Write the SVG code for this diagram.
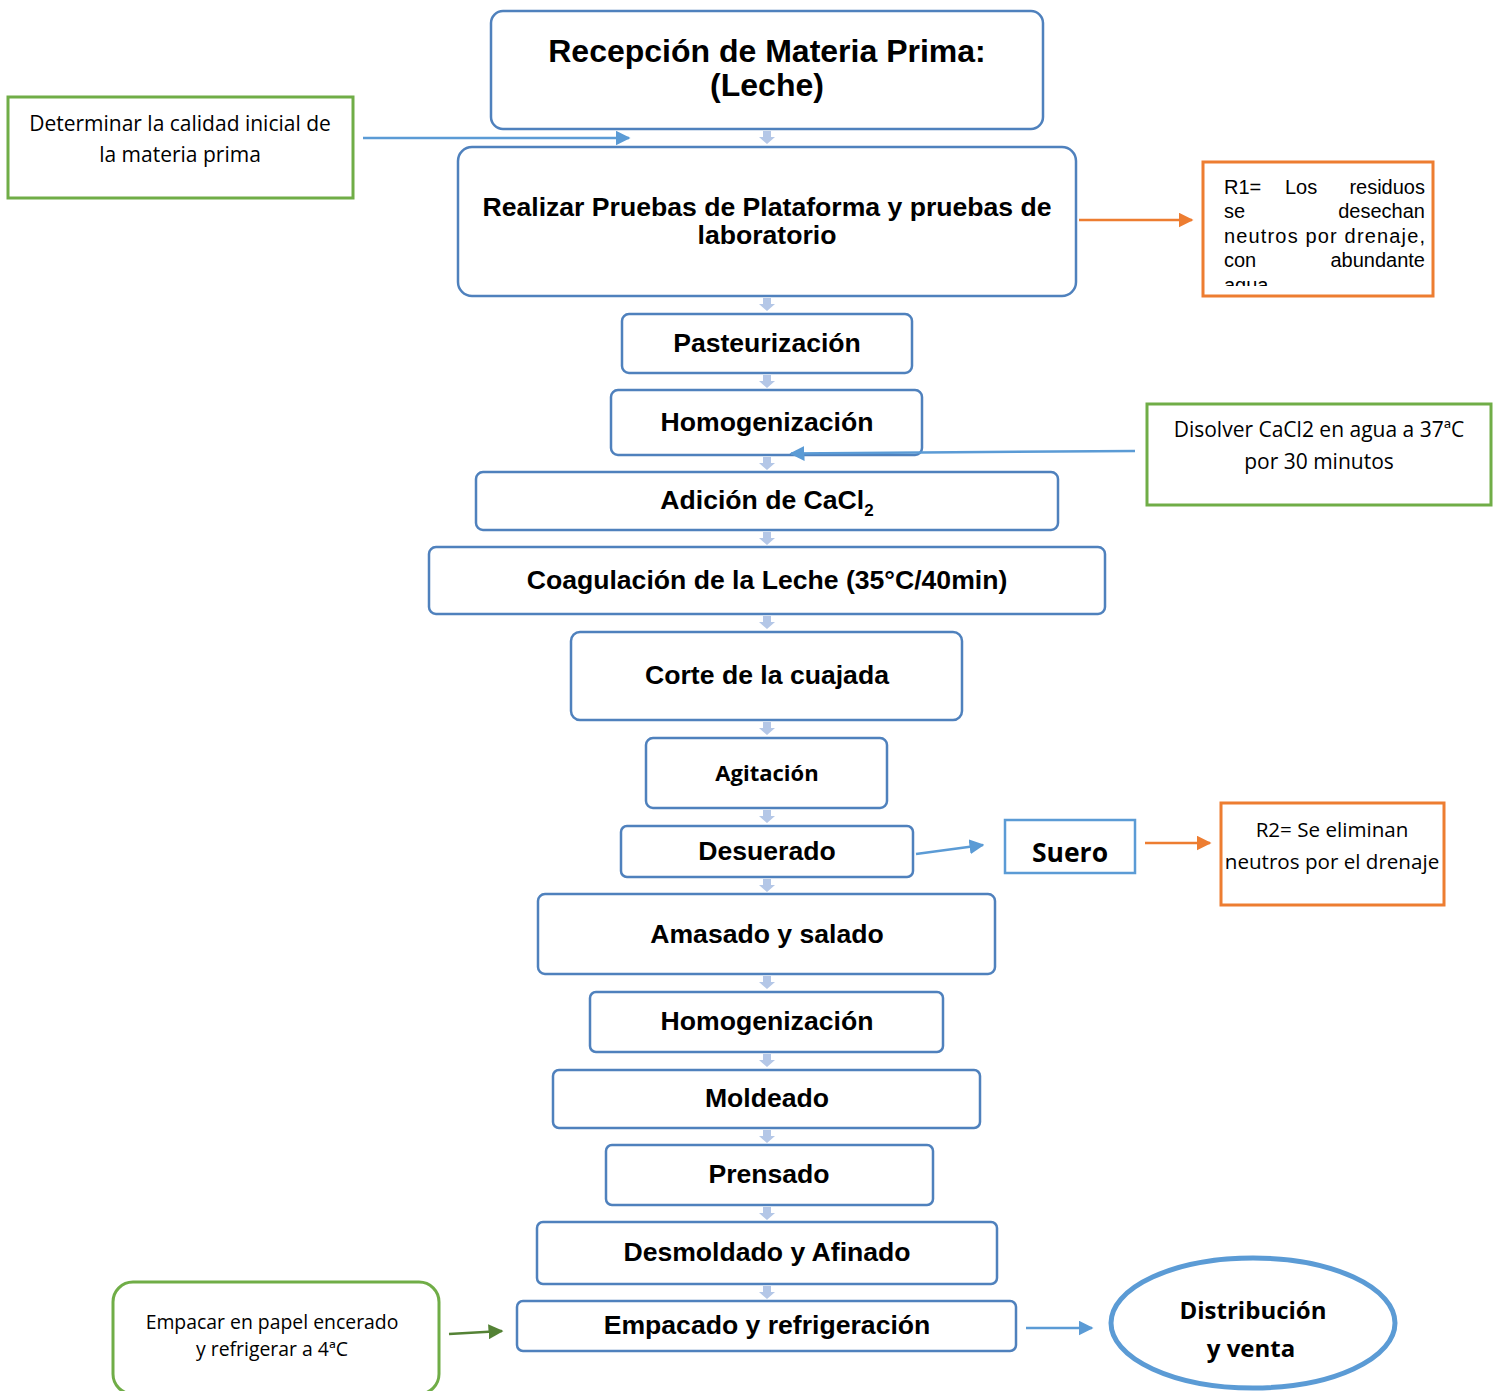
<svg xmlns="http://www.w3.org/2000/svg" width="1500" height="1391" viewBox="0 0 1500 1391">
  <style>
    .step { fill: #ffffff; stroke: #4f81bd; stroke-width: 2.5; }
    .note { fill: #ffffff; stroke: #70ad47; stroke-width: 3; }
    .waste { fill: #ffffff; stroke: #ed7d31; stroke-width: 3; }
    .t { font-family: "Liberation Sans", Arial, sans-serif; font-weight: bold; fill: #000; text-anchor: middle; font-size: 26.6px; }
    .title { font-size: 32px; }
    .sub { font-size: 17px; }
    .c { font-family: "Open Sans", "Noto Sans", sans-serif; fill: #000; text-anchor: middle; }
    .cb { font-family: "Open Sans", "Noto Sans", sans-serif; font-weight: bold; fill: #000; text-anchor: middle; }
    .r1 { font-family: "Liberation Sans", Arial, sans-serif; font-size: 20px; fill: #000; }
    .flow { fill: #b4c7e7; }
    .blue { stroke: #5b9bd5; stroke-width: 2.5; fill: none; }
    .orange { stroke: #ed7d31; stroke-width: 2.5; fill: none; }
    .green { stroke: #548235; stroke-width: 2.5; fill: none; }
  </style>
  <defs>
    <marker id="ahBlue" viewBox="0 0 10 10" refX="9" refY="5" markerWidth="6" markerHeight="6" markerUnits="strokeWidth" orient="auto">
      <path d="M0,0 L10,5 L0,10 z" fill="#5b9bd5"/>
    </marker>
    <marker id="ahOrange" viewBox="0 0 10 10" refX="9" refY="5" markerWidth="6" markerHeight="6" markerUnits="strokeWidth" orient="auto">
      <path d="M0,0 L10,5 L0,10 z" fill="#ed7d31"/>
    </marker>
    <marker id="ahGreen" viewBox="0 0 10 10" refX="9" refY="5" markerWidth="6" markerHeight="6" markerUnits="strokeWidth" orient="auto">
      <path d="M0,0 L10,5 L0,10 z" fill="#548235"/>
    </marker>
    <path id="down" d="M-4,0 h8 v6 h4 l-8,7 l-8,-7 h4 z"/>
    <clipPath id="r1clip"><rect x="1205" y="164" width="226" height="122"/></clipPath>
  </defs>

  <!-- main process steps -->
  <g id="recepcion">
    <rect class="step" x="491" y="11" width="552" height="118" rx="12"/>
    <text class="t title" x="767" y="62">Recepción de Materia Prima:</text>
    <text class="t title" x="767" y="96">(Leche)</text>
  </g>
  <g id="pruebas">
    <rect class="step" x="458" y="147" width="618" height="149" rx="14"/>
    <text class="t" x="767" y="216">Realizar Pruebas de Plataforma y pruebas de</text>
    <text class="t" x="767" y="244">laboratorio</text>
  </g>
  <g id="pasteurizacion">
    <rect class="step" x="622" y="314" width="290" height="59" rx="7"/>
    <text class="t" x="767" y="352">Pasteurización</text>
  </g>
  <g id="homogenizacion1">
    <rect class="step" x="611" y="390" width="311" height="65" rx="7"/>
    <text class="t" x="767" y="431">Homogenización</text>
  </g>
  <g id="adicion">
    <rect class="step" x="476" y="472" width="582" height="58" rx="7"/>
    <text class="t" x="767" y="509">Adición de CaCl<tspan class="sub" dy="7">2</tspan></text>
  </g>
  <g id="coagulacion">
    <rect class="step" x="429" y="547" width="676" height="67" rx="7"/>
    <text class="t" x="767" y="589">Coagulación de la Leche (35°C/40min)</text>
  </g>
  <g id="corte">
    <rect class="step" x="571" y="632" width="391" height="88" rx="9"/>
    <text class="t" x="767" y="684">Corte de la cuajada</text>
  </g>
  <g id="agitacion">
    <rect class="step" x="646" y="738" width="241" height="70" rx="7"/>
    <text class="cb" x="767" y="781" font-size="22">Agitación</text>
  </g>
  <g id="desuerado">
    <rect class="step" x="621" y="826" width="292" height="51" rx="6"/>
    <text class="t" x="767" y="860">Desuerado</text>
  </g>
  <g id="amasado">
    <rect class="step" x="538" y="894" width="457" height="80" rx="7"/>
    <text class="t" x="767" y="943">Amasado y salado</text>
  </g>
  <g id="homogenizacion2">
    <rect class="step" x="590" y="992" width="353" height="60" rx="6"/>
    <text class="t" x="767" y="1030">Homogenización</text>
  </g>
  <g id="moldeado">
    <rect class="step" x="553" y="1070" width="427" height="58" rx="6"/>
    <text class="t" x="767" y="1107">Moldeado</text>
  </g>
  <g id="prensado">
    <rect class="step" x="606" y="1145" width="327" height="60" rx="6"/>
    <text class="t" x="769" y="1183">Prensado</text>
  </g>
  <g id="desmoldado">
    <rect class="step" x="537" y="1222" width="460" height="62" rx="6"/>
    <text class="t" x="767" y="1261">Desmoldado y Afinado</text>
  </g>
  <g id="empacado">
    <rect class="step" x="517" y="1301" width="499" height="50" rx="6"/>
    <text class="t" x="767" y="1334">Empacado y refrigeración</text>
  </g>
  <g id="distribucion">
    <ellipse cx="1253" cy="1323" rx="142" ry="65" fill="#ffffff" stroke="#5b9bd5" stroke-width="5"/>
    <text class="cb" x="1253" y="1319" font-size="24">Distribución</text>
    <text class="cb" x="1251" y="1357" font-size="24">y venta</text>
  </g>

  <!-- side notes -->
  <g id="nota-calidad">
    <rect class="note" x="8" y="97" width="345" height="101"/>
    <text class="c" x="180" y="131" font-size="21">Determinar la calidad inicial de</text>
    <text class="c" x="180" y="162" font-size="21">la materia prima</text>
  </g>
  <g id="residuo-r1">
    <rect class="waste" x="1203" y="162" width="230" height="134"/>
    <g clip-path="url(#r1clip)">
      <text class="r1" x="1224" y="194">R1=</text>
      <text class="r1" x="1285" y="194">Los</text>
      <text class="r1" x="1425" y="194" text-anchor="end">residuos</text>
      <text class="r1" x="1224" y="218">se</text>
      <text class="r1" x="1425" y="218" text-anchor="end">desechan</text>
      <text class="r1" x="1224" y="243" textLength="201" lengthAdjust="spacing">neutros por drenaje,</text>
      <text class="r1" x="1224" y="267">con</text>
      <text class="r1" x="1425" y="267" text-anchor="end">abundante</text>
      <text class="r1" x="1224" y="292">agua</text>
    </g>
  </g>
  <g id="nota-cacl2">
    <rect class="note" x="1147" y="404" width="344" height="101"/>
    <text class="c" x="1319" y="437" font-size="21">Disolver CaCl2 en agua a 37ªC</text>
    <text class="c" x="1319" y="469" font-size="21">por 30 minutos</text>
  </g>
  <g id="suero">
    <rect x="1005" y="820" width="130" height="53" fill="#ffffff" stroke="#5b9bd5" stroke-width="2.5"/>
    <text class="cb" x="1070" y="862" font-size="26.5">Suero</text>
  </g>
  <g id="residuo-r2">
    <rect class="waste" x="1221" y="803" width="223" height="102"/>
    <text class="c" x="1332" y="837" font-size="20.6">R2= Se eliminan</text>
    <text class="c" x="1332" y="869" font-size="20.6">neutros por el drenaje</text>
  </g>
  <g id="nota-empaque">
    <rect class="note" x="113" y="1282" width="326" height="112" rx="20"/>
    <text class="c" x="272" y="1329" font-size="19.4">Empacar en papel encerado</text>
    <text class="c" x="272" y="1356" font-size="19.4">y refrigerar a 4ªC</text>
  </g>

  <!-- connectors -->
  <g id="connectors">
    <use href="#down" class="flow" x="767" y="131"/>
    <use href="#down" class="flow" x="767" y="298"/>
    <use href="#down" class="flow" x="767" y="375"/>
    <use href="#down" class="flow" x="767" y="457"/>
    <use href="#down" class="flow" x="767" y="532"/>
    <use href="#down" class="flow" x="767" y="616"/>
    <use href="#down" class="flow" x="767" y="722"/>
    <use href="#down" class="flow" x="767" y="810"/>
    <use href="#down" class="flow" x="767" y="879"/>
    <use href="#down" class="flow" x="767" y="976"/>
    <use href="#down" class="flow" x="767" y="1054"/>
    <use href="#down" class="flow" x="767" y="1130"/>
    <use href="#down" class="flow" x="767" y="1207"/>
    <use href="#down" class="flow" x="767" y="1286"/>

    <line class="blue" x1="363" y1="138" x2="629" y2="138" marker-end="url(#ahBlue)"/>
    <line class="orange" x1="1079" y1="220" x2="1192" y2="220" marker-end="url(#ahOrange)"/>
    <line class="blue" x1="1135" y1="451" x2="791" y2="453.5" marker-end="url(#ahBlue)"/>
    <line class="blue" x1="916" y1="854" x2="983" y2="845" marker-end="url(#ahBlue)"/>
    <line class="orange" x1="1145" y1="843" x2="1210" y2="843" marker-end="url(#ahOrange)"/>
    <line class="green" x1="449" y1="1334" x2="502" y2="1331" marker-end="url(#ahGreen)"/>
    <line class="blue" x1="1026" y1="1328" x2="1092" y2="1328" marker-end="url(#ahBlue)"/>
  </g>
</svg>
